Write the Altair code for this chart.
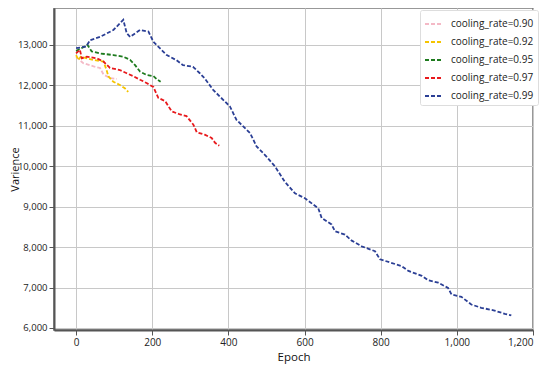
import altair as alt
import pandas as pd

labels = ["cooling_rate=0.90", "cooling_rate=0.92", "cooling_rate=0.95",
          "cooling_rate=0.97", "cooling_rate=0.99"]
colors = ["#f4b9c6", "#f5c400", "#1e7b1e", "#e8191c", "#2b3f95"]

ep_090 = [0, 19, 46, 63, 72, 89, 107]
va_090 = [12700, 12550, 12470, 12430, 12270, 12180, 12160]

ep_092 = [0, 6, 12, 46, 72, 80, 85, 98, 115, 128, 137]
va_092 = [12750, 12630, 12710, 12630, 12590, 12380, 12220, 12090, 12010, 11930, 11840]

ep_095 = [0, 30, 41, 63, 98, 124, 142, 155, 168, 185, 203, 212, 222]
va_095 = [12850, 13000, 12840, 12790, 12750, 12710, 12630, 12500, 12340, 12260,
          12230, 12150, 12090]

ep_097 = [0, 10, 15, 28, 54, 72, 89, 115, 133, 150, 168, 185, 203, 216, 234, 251,
          273, 290, 308, 317, 338, 356, 365, 376]
va_097 = [12790, 12880, 12670, 12710, 12670, 12590, 12430, 12380, 12300, 12230,
          12140, 12060, 11960, 11690, 11610, 11360, 11280, 11240, 11030, 10840,
          10780, 10700, 10580, 10510]

ep_099 = [0, 26, 37, 63, 98, 124, 133, 142, 168, 190, 203, 220, 238, 264, 281, 307,
          325, 338, 360, 378, 404, 421, 457, 474, 500, 522, 548, 575, 601, 636, 645,
          671, 680, 706, 724, 750, 785, 798, 855, 873, 908, 925, 951, 977, 986, 1012,
          1038, 1064, 1099, 1126, 1143]
va_099 = [12920, 12960, 13120, 13200, 13370, 13620, 13290, 13200, 13370, 13330,
          13080, 12920, 12750, 12620, 12500, 12460, 12300, 12170, 11890, 11720,
          11480, 11150, 10820, 10490, 10240, 10000, 9620, 9330, 9210, 8960, 8720,
          8560, 8390, 8310, 8160, 8020, 7900, 7700, 7530, 7410, 7290, 7180, 7120,
          6990, 6830, 6770, 6580, 6500, 6430, 6350, 6310]

x_ticks = [0, 200, 400, 600, 800, 1000, 1200]
y_ticks = [6000, 7000, 8000, 9000, 10000, 11000, 12000, 13000]

rows = []
for lab, eps, vas in zip(labels, [ep_090, ep_092, ep_095, ep_097, ep_099],
                         [va_090, va_092, va_095, va_097, va_099]):
    for i, (e, v) in enumerate(zip(eps, vas)):
        rows.append({"series": lab, "Epoch": e, "Varience": v, "i": i})
df = pd.DataFrame(rows)

font = "Open Sans"

chart = alt.Chart(df).mark_line(strokeDash=[4, 2], strokeWidth=1.8).encode(
    x=alt.X("Epoch:Q", scale=alt.Scale(domain=[-58, 1200], nice=False, zero=False),
            axis=alt.Axis(values=x_ticks, format=",d", title="Epoch")),
    y=alt.Y("Varience:Q", scale=alt.Scale(domain=[5950, 13914], nice=False, zero=False),
            axis=alt.Axis(values=y_ticks, format=",d", title="Varience",
                          titleX=-34, titleY=161, titleAngle=270)),
    color=alt.Color("series:N", scale=alt.Scale(domain=labels, range=colors),
                    legend=alt.Legend(title=None, orient="none", legendX=366, legendY=2,
                                      symbolType="stroke", symbolStrokeWidth=1.8,
                                      symbolDash=[4, 2], symbolSize=324,
                                      labelFont=font, labelFontSize=10,
                                      labelColor="#222", rowPadding=3,
                                      labelOffset=7,
                                      fillColor="white", strokeColor="#ddd",
                                      padding=4, cornerRadius=2)),
    order="i:Q",
).properties(
    width=479, height=322,
    autosize=alt.AutoSizeParams(type="none"),
    padding={"left": 46, "top": 0, "right": 9, "bottom": 35},
).configure_view(
    stroke="#777", strokeWidth=1.5
).configure_axis(
    labelFont=font, titleFont=font, labelFontSize=9.5, titleFontSize=11,
    titleFontWeight="normal", labelColor="#222", titleColor="#111",
    gridColor="#c8c8c8", gridWidth=1, domainColor="#555", domainWidth=2,
    tickColor="#555", tickSize=5, labelPadding=2,
).configure_axisX(titlePadding=4, labelFontSize=10, titleFontSize=11.5)

chart.save("out.html", embed_options={"renderer": "svg", "actions": False})
